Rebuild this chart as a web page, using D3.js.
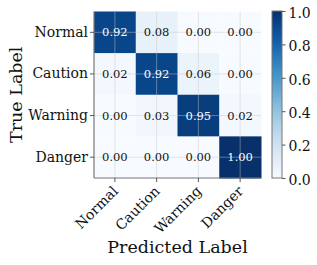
<!DOCTYPE html>
<html><head><meta charset="utf-8">
<script src="https://cdn.jsdelivr.net/npm/d3@7"></script>
<style>body{margin:0;background:#fff}svg{display:block}text{font-family:"DejaVu Serif",serif}</style>
</head><body>
<script>
const categories = ["Normal","Caution","Warning","Danger"];
const matrix = [
  [0.92,0.08,0.00,0.00],
  [0.02,0.92,0.06,0.00],
  [0.00,0.03,0.95,0.02],
  [0.00,0.00,0.00,1.00]
];
const colorbarTicks = [0.0,0.2,0.4,0.6,0.8,1.0];

(function(){
const W=317,H=265;
const svg=d3.select("body").append("svg").attr("width",W).attr("height",H);
const mL=94,mR=261,mT=11.5,mB=178;
const x=d3.scaleBand().domain(categories).range([mL,mR]);
const y=d3.scaleBand().domain(categories).range([mT,mB]);
const color=d3.scaleSequential(d3.interpolateBlues).domain([0,1]);

const cells=[];
matrix.forEach((row,i)=>row.forEach((v,j)=>cells.push({r:categories[i],c:categories[j],v})));
svg.append("g").selectAll("rect").data(cells).join("rect")
  .attr("x",d=>x(d.c)).attr("y",d=>y(d.r))
  .attr("width",x.bandwidth()+0.5).attr("height",y.bandwidth()+0.5)
  .attr("fill",d=>color(d.v));

const g=svg.append("g").attr("stroke","#c8c8c8").attr("stroke-opacity",0.45).attr("stroke-width",1);
categories.forEach(c=>{
  const cx=x(c)+x.bandwidth()/2;
  g.append("line").attr("x1",cx).attr("x2",cx).attr("y1",mT).attr("y2",mB);
  const cyy=y(c)+y.bandwidth()/2;
  g.append("line").attr("x1",mL).attr("x2",mR).attr("y1",cyy).attr("y2",cyy);
});

svg.append("g").selectAll("text").data(cells).join("text")
  .attr("x",d=>x(d.c)+x.bandwidth()/2).attr("y",d=>y(d.r)+y.bandwidth()/2)
  .attr("text-anchor","middle").attr("dominant-baseline","central")
  .attr("font-size",11.5).attr("fill",d=>d.v>0.5?"#fff":"#111")
  .text(d=>d.v.toFixed(2));

svg.append("line").attr("x1",mL).attr("x2",mL).attr("y1",mT).attr("y2",mB).attr("stroke","#777").attr("stroke-width",1.2);
svg.append("line").attr("x1",mL).attr("x2",mR).attr("y1",mB).attr("y2",mB).attr("stroke","#777").attr("stroke-width",1.2);

const yAxis=svg.append("g").attr("transform",`translate(${mL},0)`).call(d3.axisLeft(y).tickSize(4).tickPadding(2));
yAxis.select(".domain").remove();
yAxis.selectAll("line").attr("stroke","#555");
yAxis.selectAll("text").attr("font-size",14).attr("fill","#111").attr("font-family","DejaVu Serif");

const xAxis=svg.append("g").attr("transform",`translate(0,${mB})`).call(d3.axisBottom(x).tickSize(4).tickPadding(3));
xAxis.select(".domain").remove();
xAxis.selectAll("line").attr("stroke","#555");
xAxis.selectAll("text").attr("font-size",14).attr("fill","#111").attr("font-family","DejaVu Serif")
  .attr("text-anchor","end").attr("y",0).attr("dy",0).attr("transform","translate(4,14) rotate(-45)");

svg.append("text").attr("x",(mL+mR)/2).attr("y",253).attr("text-anchor","middle")
  .attr("font-size",17.5).attr("fill","#111").text("Predicted Label");
svg.append("text").attr("transform",`translate(22,${(mT+mB)/2}) rotate(-90)`).attr("text-anchor","middle")
  .attr("font-size",17.5).attr("fill","#111").text("True Label");

const cbX=272,cbW=10;
const cy=d3.scaleLinear().domain([0,1]).range([178,11]);
const defs=svg.append("defs");
const grad=defs.append("linearGradient").attr("id","cb").attr("x1",0).attr("y1",1).attr("x2",0).attr("y2",0);
d3.range(0,1.0001,0.05).forEach(t=>grad.append("stop").attr("offset",t).attr("stop-color",color(t)));
svg.append("rect").attr("x",cbX).attr("y",cy(1)).attr("width",cbW).attr("height",cy(0)-cy(1))
  .attr("fill","url(#cb)").attr("stroke","#777").attr("stroke-width",1);
const cbAxis=svg.append("g").attr("transform",`translate(${cbX+cbW},0)`).call(d3.axisRight(cy).tickValues(colorbarTicks).tickFormat(d3.format(".1f")).tickSize(3.5).tickPadding(3));
cbAxis.select(".domain").remove();
cbAxis.selectAll("line").attr("stroke","#555");
cbAxis.selectAll("text").attr("font-size",14).attr("fill","#111").attr("font-family","DejaVu Serif").attr("dy","0.45em");
})();
</script>
</body></html>
